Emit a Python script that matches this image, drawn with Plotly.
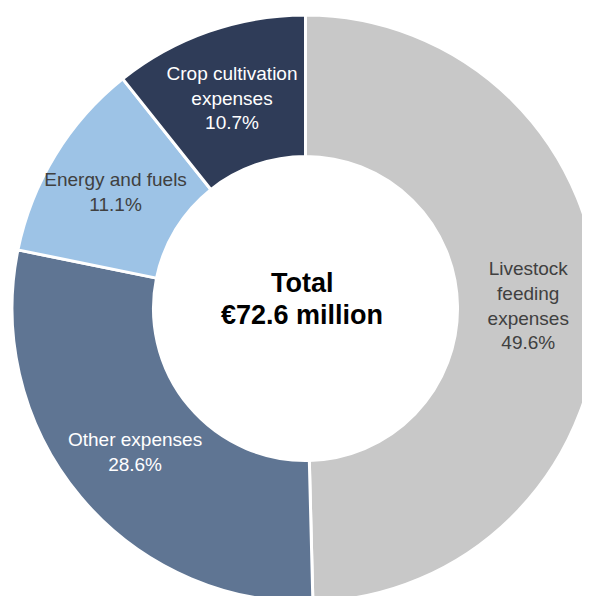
import math

import plotly.graph_objects as go

categories = [
    "Livestock<br>feeding<br>expenses",
    "Other expenses",
    "Energy and fuels",
    "Crop cultivation<br>expenses",
]
shares = [49.6, 28.6, 11.1, 10.7]
total_lines = ["Total", "€72.6 million"]

colors = ["#C8C8C8", "#5F7593", "#9DC3E6", "#2F3C58"]
text_colors = ["#404040", "#FFFFFF", "#404040", "#FFFFFF"]
FONT = "Arial, Liberation Sans, sans-serif"

W, H = 600, 610
DOM_X = [0.00667, 0.985]
DOM_Y = [0.02623, 0.98852]
HOLE = 0.518

# plotly squeezes the long single-line label to the rim; place that one by hand
placed_by_slice = [False, True, False, False]

fig = go.Figure(
    go.Pie(
        labels=categories,
        values=shares,
        sort=False,
        direction="clockwise",
        rotation=0,
        hole=HOLE,
        marker=dict(colors=colors, line=dict(color="white", width=3)),
        texttemplate="%{label}<br>%{value:.1f}%",
        textposition=["none" if p else "inside" for p in placed_by_slice],
        insidetextorientation="horizontal",
        textfont=dict(family=FONT, size=19, color=text_colors),
        domain=dict(x=DOM_X, y=DOM_Y),
        hoverinfo="label+value",
        showlegend=False,
    )
)

# centre and radius of the donut in pixels
cx = (DOM_X[0] + DOM_X[1]) / 2 * W
cy = (DOM_Y[0] + DOM_Y[1]) / 2 * H
radius = min((DOM_X[1] - DOM_X[0]) * W, (DOM_Y[1] - DOM_Y[0]) * H) / 2
mid_r = radius * (1 + HOLE) / 2

total = sum(shares)
cum = 0.0
for i, share in enumerate(shares):
    mid = (cum + share / 2) / total * 2 * math.pi
    cum += share
    if not placed_by_slice[i]:
        continue
    px = cx + mid_r * math.sin(mid)
    py = cy + mid_r * math.cos(mid)
    fig.add_annotation(
        text=f"{categories[i]}<br>{share:.1f}%",
        x=px / W,
        y=py / H,
        xref="paper",
        yref="paper",
        xanchor="center",
        yanchor="middle",
        showarrow=False,
        font=dict(family=FONT, size=19, color=text_colors[i]),
    )

for line, ypos in zip(total_lines, [0.5492, 0.4967]):
    fig.add_annotation(
        text=f"<b>{line}</b>",
        x=0.49,
        y=ypos,
        xref="paper",
        yref="paper",
        xanchor="center",
        yanchor="middle",
        showarrow=False,
        font=dict(family=FONT, size=27, color="black"),
    )

fig.update_layout(
    width=W,
    height=H,
    margin=dict(l=0, r=0, t=0, b=0),
    paper_bgcolor="white",
    plot_bgcolor="white",
    uniformtext=dict(minsize=19, mode="show"),
)

fig.write_html("out.html")
